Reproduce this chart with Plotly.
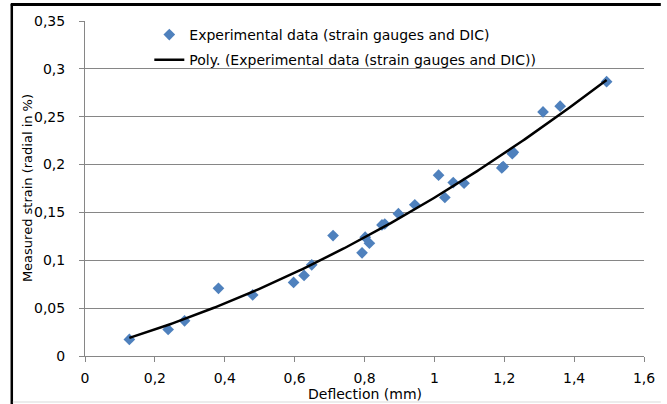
import numpy as np
import plotly.graph_objects as go

# Data
deflection_mm = [0.127, 0.238, 0.285, 0.382, 0.480, 0.597, 0.627, 0.649, 0.710, 0.793,
                 0.802, 0.814, 0.850, 0.858, 0.897, 0.944, 1.012, 1.030, 1.054, 1.085,
                 1.193, 1.197, 1.223, 1.226, 1.311, 1.360, 1.493]
strain_pct = [0.0173, 0.0277, 0.0367, 0.0707, 0.0638, 0.0769, 0.0842, 0.0953, 0.1258, 0.1078,
              0.1241, 0.1178, 0.1369, 0.1379, 0.1487, 0.1580, 0.1889, 0.1656, 0.1812, 0.1805,
              0.1965, 0.1980, 0.2114, 0.2130, 0.2550, 0.2610, 0.2866]
series_name = "Experimental data (strain gauges and DIC)"
trend_name = "Poly. (Experimental data (strain gauges and DIC))"
x_title = "Deflection (mm)"
y_title = "Measured strain (radial in %)"
x_ticks = [0, 0.2, 0.4, 0.6, 0.8, 1.0, 1.2, 1.4, 1.6]
y_ticks = [0, 0.05, 0.1, 0.15, 0.2, 0.25, 0.3, 0.35]

# Polynomial (order 2) trendline fitted to the data, as in the spreadsheet
coef = np.polyfit(deflection_mm, strain_pct, 2)
xt = np.linspace(min(deflection_mm), max(deflection_mm), 200)
yt = np.polyval(coef, xt)

FONT = "DejaVu Sans"
W, H = 667, 404
L, R, T, B = 85, 17, 21, 48
pw, ph = W - L - R, H - T - B

def px_x(p):
    return (p - L) / pw

def px_y(p):
    return (H - B - p) / ph

fig = go.Figure()
fig.add_trace(go.Scatter(
    x=deflection_mm, y=strain_pct, mode="markers", name=series_name,
    legendgroup="a",
    marker=dict(symbol="diamond", size=9, color="#4F81BD", line=dict(width=0)),
))
fig.add_trace(go.Scatter(
    x=xt, y=yt, mode="lines", name=trend_name, legendgroup="b",
    line=dict(color="black", width=2.5),
))

axis_common = dict(
    showline=True, linecolor="#868686", linewidth=1,
    ticks="outside", ticklen=5, tickcolor="#868686",
    tickfont=dict(family=FONT, size=14, color="black"),
    zeroline=False,
)
fig.update_xaxes(range=[0, 1.6], tickvals=x_ticks, showgrid=False,
                 ticklabelstandoff=4, **axis_common)
fig.update_yaxes(range=[0, 0.35], tickvals=y_ticks, showgrid=True,
                 gridcolor="#868686", gridwidth=1, ticklabelstandoff=11, **axis_common)

fig.update_layout(
    width=W, height=H,
    margin=dict(l=L, r=R, t=T, b=B),
    paper_bgcolor="white", plot_bgcolor="white",
    separators=", ",
    font=dict(family=FONT, size=14, color="black"),
    showlegend=True,
    legend=dict(
        x=px_x(150), y=px_y(19), xanchor="left", yanchor="top",
        bgcolor="rgba(0,0,0,0)", font=dict(family=FONT, size=14, color="black"),
        tracegroupgap=4,
    ),
    annotations=[
        dict(text=x_title, xref="paper", yref="paper", x=0.5, y=px_y(394),
             xanchor="center", yanchor="middle", showarrow=False,
             font=dict(family=FONT, size=14, color="black")),
        dict(text=y_title, xref="paper", yref="paper", x=px_x(27), y=0.5,
             xanchor="center", yanchor="middle", showarrow=False, textangle=-90,
             font=dict(family=FONT, size=13, color="black")),
    ],
    shapes=[
        dict(type="rect", xref="paper", yref="paper", x0=px_x(10), x1=px_x(667),
             y0=px_y(3), y1=px_y(6), fillcolor="black", line=dict(width=0),
             layer="above"),
        dict(type="line", xref="paper", yref="paper", x0=px_x(11), x1=px_x(11),
             y0=px_y(4), y1=px_y(404), line=dict(color="black", width=2.5)),
        dict(type="line", xref="paper", yref="paper", x0=px_x(12), x1=px_x(667),
             y0=px_y(402), y1=px_y(402), line=dict(color="#D9D9D9", width=1)),
    ],
)

fig.write_html("out.html", config={"displayModeBar": False},
               post_script="document.body.style.margin='0px';document.body.style.overflow='hidden';")
